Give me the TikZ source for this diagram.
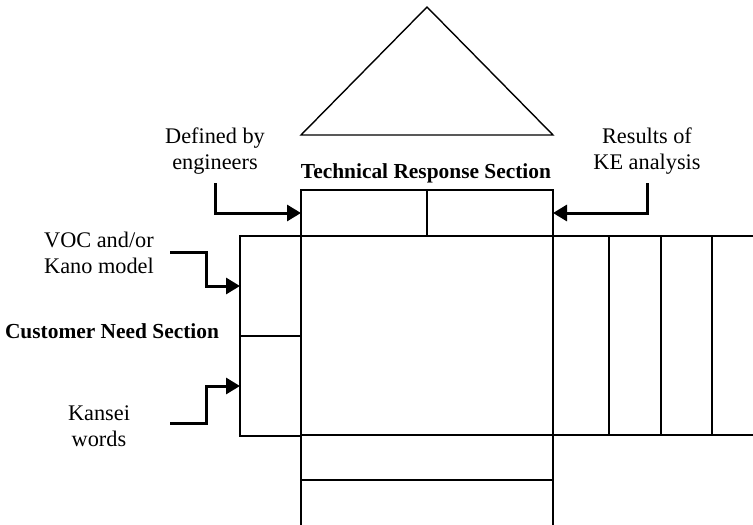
\documentclass[tikz,border=0pt]{standalone}
\usepackage{fontspec}
\setmainfont{Liberation Serif}
\usetikzlibrary{arrows.meta,calc}
\begin{document}
\begin{tikzpicture}[x=1pt,y=-1pt,
  line width=1.4pt,
  cell/.style={draw,line width=1.4pt,inner sep=0pt,outer sep=0pt,anchor=north west},
  lbl/.style={align=center,inner sep=0pt,font=\fontsize{22.3}{26.5}\selectfont},
  title/.style={inner sep=0pt,font=\fontsize{21.4}{25}\selectfont\bfseries},
  feed/.style={line width=3pt,-{Triangle[length=14pt,width=16pt]}}]
\useasboundingbox (0,0) rectangle (753,525);

% roof
\coordinate (apex) at (427,7);
\coordinate (roofl) at (301,135);
\coordinate (roofr) at (553,135);
\draw (apex) -- (roofl) -- (roofr) -- cycle;

% technical response row
\node[cell,minimum width=252pt,minimum height=46pt] (tech) at (301,190) {};
\draw (tech.north) -- (tech.south);

% central relationship matrix
\node[cell,minimum width=252pt,minimum height=199pt] (rel) at (301,236) {};

% customer need column
\node[cell,minimum width=61pt,minimum height=100pt] (cu) at (240,236) {};
\node[cell,minimum width=61pt,minimum height=100pt] (cl) at (240,336) {};

% right-hand columns
\node[cell,minimum width=56pt,minimum height=199pt] (r1) at (553,236) {};
\node[cell,minimum width=52pt,minimum height=199pt] (r2) at (609,236) {};
\node[cell,minimum width=51pt,minimum height=199pt] (r3) at (661,236) {};
\coordinate (rtop) at (753,236);
\coordinate (rbot) at (753,435);
\draw (r3.north east) -- (rtop);
\draw (r3.south east) -- (rbot);

% bottom rows
\node[cell,minimum width=252pt,minimum height=45pt] (b1) at (301,435) {};
\coordinate (b2l) at (301,525);
\coordinate (b2r) at (553,525);
\draw (b1.south west) -- (b2l);
\draw (b1.south east) -- (b2r);

% labels
\node[lbl] (def) at (215,151) {Defined by\\engineers};
\node[lbl] (res) at (647,151) {Results of\\KE analysis};
\node[title] (trs) at (426,173) {Technical Response Section};
\node[title] (cns) at (112,331) {Customer Need Section};
\node[lbl] (voc) at (99,253) {VOC and/or\\Kano model};
\node[lbl] (kan) at (99,426) {Kansei\\words};

% input arrows
\draw[feed] (215,183) |- (tech.west);
\draw[feed] (647,183) |- (tech.east);
\coordinate (vocs) at (170,252);
\coordinate (kans) at (170,423);
\draw[feed] (vocs) -- (206,252) |- (cu.west);
\draw[feed] (kans) -- (206,423) |- (cl.west);
\end{tikzpicture}
\end{document}
